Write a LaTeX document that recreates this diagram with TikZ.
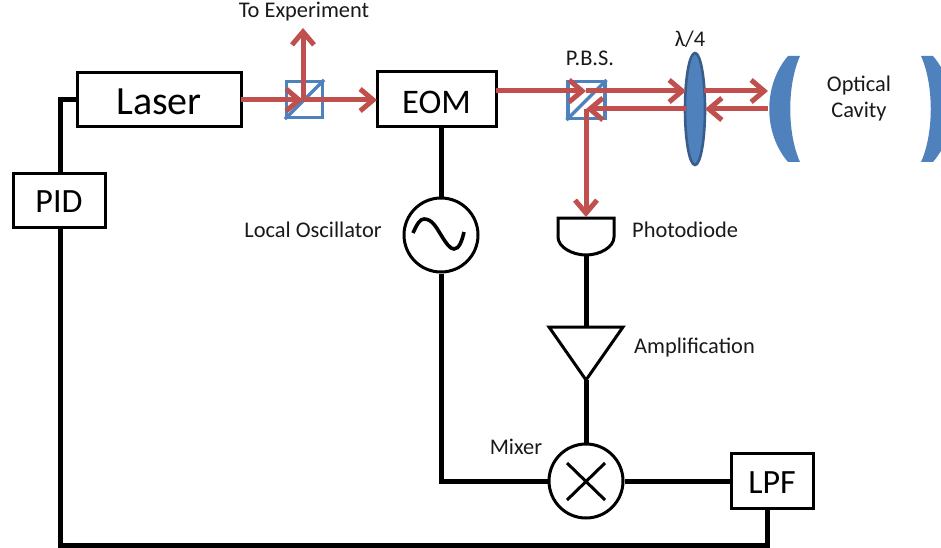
\documentclass[tikz,border=0pt]{standalone}
\usepackage{fontspec}
\setmainfont{Carlito}
\usetikzlibrary{arrows.meta,calc}
\definecolor{beam}{HTML}{C0504D}
\definecolor{optic}{HTML}{4F81BD}
\definecolor{opticdark}{HTML}{385D8A}
\tikzset{
  box/.style={draw=black,line width=3pt,rectangle,inner sep=0pt,fill=white},
  wire/.style={draw=black,line width=5pt},
  beamline/.style={draw=beam,line width=5pt},
  beamarrow/.style={beamline,-{Straight Barb[length=13pt,width=22pt,line width=5pt]}},
  cube/.style={draw=optic,line width=3.2pt,rectangle,inner sep=0pt,minimum width=36pt,minimum height=36pt},
  lab/.style={inner sep=0pt,font=\fontsize{22.4}{26}\selectfont,text=black!90},
  circ/.style={draw=black,line width=3pt,circle,minimum size=74pt,inner sep=0pt,fill=white},
}
\begin{document}
\begin{tikzpicture}[x=1pt,y=-1pt]
\useasboundingbox (0,0) rectangle (941,548);
\clip (0,0) rectangle (941,548);
% coordinates
\coordinate (laserout) at (241,100);
\coordinate (c1) at (303,100);
\coordinate (expt) at (303,28);
\coordinate (eomin) at (377,100);
\coordinate (eomout) at (496,91);
\coordinate (c2a) at (586,91);
\coordinate (c2b) at (586,109);
\coordinate (lensinA) at (686,91);
\coordinate (lensinB) at (686,109);
\coordinate (lensoutA) at (704,91);
\coordinate (lensoutB) at (705,109);
\coordinate (mirA) at (768,91);
\coordinate (mirB) at (768,109);
\coordinate (pdtop) at (586,217);
\coordinate (corner1) at (60,100);
\coordinate (corner2) at (60,545);
\coordinate (corner3) at (767,545);
\coordinate (corner4) at (441,481);
% optics
\node[cube] (bs1) at (304.5,99.5) {};
\draw[optic,line width=3.2pt] (bs1.south west) -- (bs1.north east);
\node[cube,minimum width=37pt,minimum height=37pt] (bs2) at (586.5,100) {};
\draw[optic,line width=3.2pt] (bs2.south west) -- (bs2.north east);
\fill[optic] (800,56) -- (788,56) .. controls (763,85) and (763,133) .. (788,162) -- (800,162) .. controls (787,133) and (787,85) .. (800,56) -- cycle;
\fill[optic] (921,56) -- (933,56) .. controls (958,85) and (958,133) .. (933,162) -- (921,162) .. controls (934,133) and (934,85) .. (921,56) -- cycle;
\draw[fill=optic,draw=opticdark,line width=2.6pt] (695,109) ellipse (10pt and 56pt);
% boxes
\node[box,minimum width=164pt,minimum height=54pt] (laser) at (159,100) {};
\node[box,minimum width=119pt,minimum height=55pt] (eom) at (436.5,99.5) {};
\node[box,minimum width=92pt,minimum height=54pt] (pid) at (59,200) {};
\node[box,minimum width=82pt,minimum height=55pt] (lpf) at (772,481) {};
\node[inner sep=0pt,font=\fontsize{40}{46}\selectfont] (lasertext) at (159,102) {Laser};
\node[inner sep=0pt,font=\fontsize{34.5}{40}\selectfont] (eomtext) at (436.5,102) {EOM};
\node[inner sep=0pt,font=\fontsize{34}{40}\selectfont] (pidtext) at (59,201.5) {PID};
\node[inner sep=0pt,font=\fontsize{34}{40}\selectfont] (lpftext) at (772,482.5) {LPF};
% active elements
\node[circ] (osc) at (441,235) {};
\draw[line width=3.6pt] (413,233) .. controls (417,224) and (420,219) .. (424,219) .. controls (432,219) and (436,227) .. (441,235) .. controls (446,243) and (450,249) .. (454,249) .. controls (459,249) and (462,241) .. (464,232);
\node[circ] (mixer) at (586,481) {};
\draw[line width=3pt] (567,463) -- (605,500) (605,463) -- (567,500);
\coordinate (amptop) at (586,327);
\coordinate (ampapex) at (586,380);
\draw[line width=3pt,line join=miter,fill=white] (549,327) -- (623,327) -- (ampapex) -- cycle;
\draw[line width=3pt] (558,218) -- (614,218) -- (614,237) .. controls (614,247) and (600,255) .. (586,255) .. controls (572,255) and (558,247) .. (558,237) -- cycle;
\coordinate (pdbot) at (586,255);
% wires
\draw[wire,line cap=butt,line join=miter] (laser.west) -- (corner1) -- (corner1 |- pid.north);
\draw[wire,line join=miter] (corner1 |- pid.south) -- (corner2) -- (corner3) -- (lpf.south -| corner3);
\draw[wire] (eom.south -| osc) -- (osc.north);
\draw[wire,line join=miter] (osc.south) -- (corner4) -- (mixer.west);
\draw[wire] (mixer.east) -- (lpf.west);
\draw[wire] (pdbot) -- (amptop);
\draw[wire] (ampapex) -- (mixer.north);
% beams
\draw[beamarrow] (laserout) -- (c1);
\draw[beamarrow] (c1) -- (eomin);
\draw[beamarrow] (c1) -- (expt);
\draw[beamarrow] (eomout) -- (c2a);
\draw[beamarrow] (c2a) -- (lensinA);
\draw[beamarrow] (lensoutA) -- (mirA);
\draw[beamarrow] (mirB) -- (lensoutB);
\draw[beamarrow] (lensinB) -- (c2b);
\draw[beamarrow] (c2b) -- (pdtop);
% labels
\node[lab] (l1) at (304,12) {To Experiment};
\node[lab] (l2) at (590,58) {P.B.S.};
\node[lab] (l3) at (690,39.5) {λ/4};
\node[lab] (l4) at (859,86) {Optical};
\node[lab] (l5) at (859,112) {Cavity};
\node[lab,anchor=west] (l6) at (632,230) {Photodiode};
\node[lab,anchor=east] (l7) at (382,230) {Local Oscillator};
\node[lab,anchor=west] (l8) at (634,348) {Amplification};
\node[lab] (l9) at (516,447) {Mixer};
\end{tikzpicture}
\end{document}
